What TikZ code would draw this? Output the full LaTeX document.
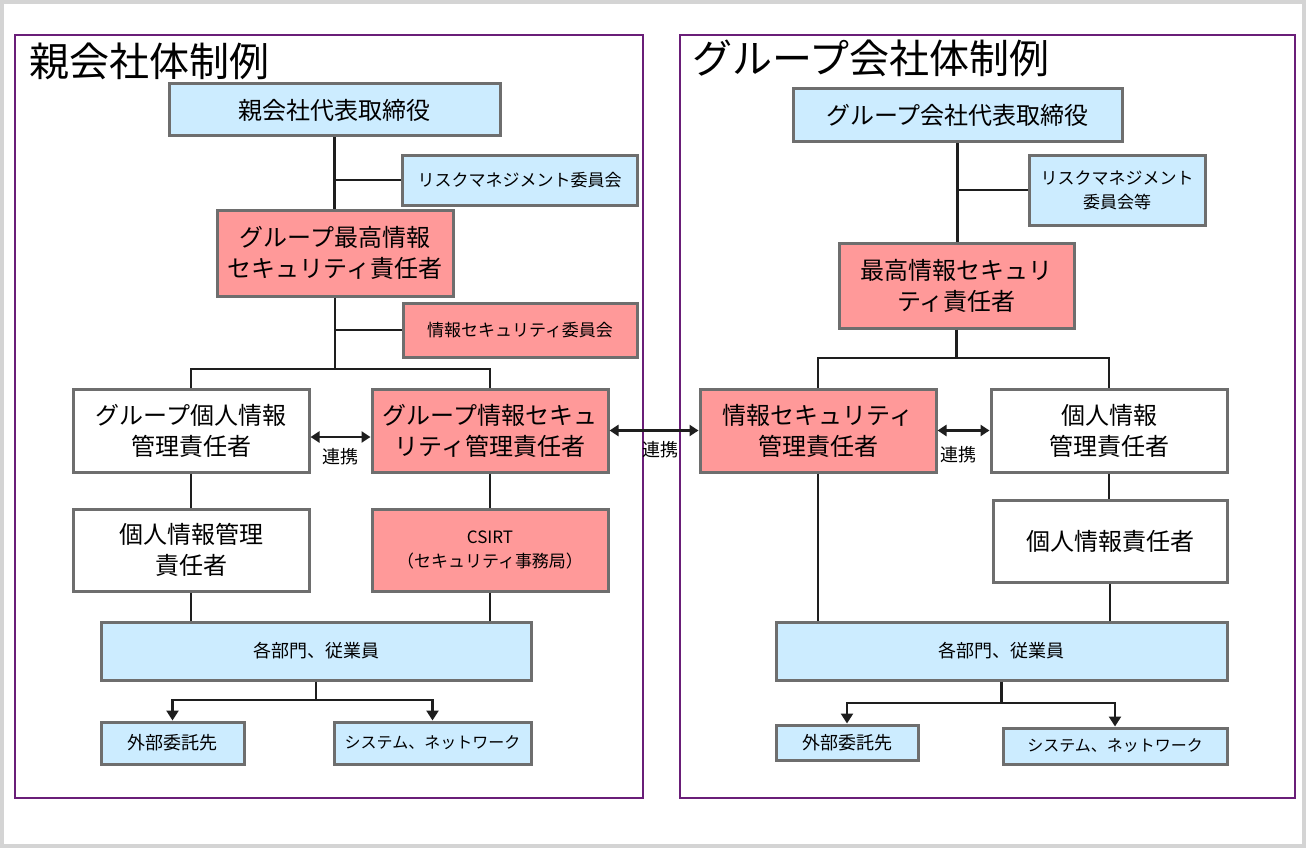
\documentclass[tikz,border=0pt]{standalone}
\usepackage{fontspec}
\setmainfont{Noto Sans CJK JP}
\usetikzlibrary{arrows.meta,calc}
\definecolor{bfill}{HTML}{CCECFF}
\definecolor{rfill}{HTML}{FF9999}
\definecolor{bordergray}{HTML}{6E6E6E}
\definecolor{panelpurple}{HTML}{6A1E78}
\definecolor{framegray}{HTML}{D4D4D4}
\definecolor{linecol}{HTML}{1E1E1E}
\newcommand\fbig{\fontsize{24}{31}\selectfont}
\newcommand\fsm{\fontsize{17}{24}\selectfont}
\newcommand\fmd{\fontsize{18}{24}\selectfont}
\newcommand\fnet{\fontsize{16}{22}\selectfont}
\newcommand\ftitle{\fontsize{40}{46}\selectfont}
\begin{document}
\begin{tikzpicture}[x=1pt,y=-1pt,
  boxbase/.style={draw=bordergray, line width=3pt, inner sep=0pt, align=center, text=black},
  bluebox/.style={boxbase, fill=bfill},
  redbox/.style={boxbase, fill=rfill},
  whitebox/.style={boxbase, fill=white},
  conn/.style={draw=linecol, line width=2.4pt},
  arrowconn/.style={conn, -{Triangle[length=10pt,width=12pt]}},
  biconn/.style={conn, {Triangle[length=9pt,width=11pt]}-{Triangle[length=9pt,width=11pt]}},
  lbl/.style={font=\fmd, text=black, inner sep=0pt},
  panel/.style={draw=panelpurple, line width=1.6pt}]
\useasboundingbox (0,0) rectangle (1306,848);
\fill[framegray] (0,0) rectangle (1306,848);
\fill[white] (4,4) rectangle (1302,844);
\draw[panel] (15,35) rectangle (643,798);
\draw[panel] (680,35) rectangle (1295,798);
\node[anchor=west, font=\ftitle, inner sep=0pt] (LT) at (29,61) {親会社体制例};
\node[anchor=west, font=\ftitle, inner sep=0pt] (RT) at (692,58) {グループ会社体制例};
% left
\node[bluebox, minimum width=331, minimum height=52, font=\fbig] (L1) at (334.5,110) {親会社代表取締役};
\node[bluebox, minimum width=235, minimum height=50, font=\fsm] (L2) at (519.5,180) {リスクマネジメント委員会};
\node[redbox, minimum width=236, minimum height=86, font=\fbig] (L3) at (335,253) {グループ最高情報\\セキュリティ責任者};
\node[redbox, minimum width=234, minimum height=54, font=\fsm] (L4) at (520,330) {情報セキュリティ委員会};
\node[whitebox, minimum width=236, minimum height=83, font=\fbig] (L5) at (191,430.5) {グループ個人情報\\管理責任者};
\node[redbox, minimum width=236, minimum height=83, font=\fbig] (L6) at (490,430.5) {グループ情報セキュ\\リティ管理責任者};
\node[whitebox, minimum width=236, minimum height=82, font=\fbig] (L7) at (191,550) {個人情報管理\\責任者};
\node[redbox, minimum width=236, minimum height=82, font=\fsm] (L8) at (490,550) {CSIRT\\（セキュリティ事務局）};
\node[bluebox, minimum width=430, minimum height=58, font=\fmd] (L9) at (316,651) {各部門、従業員};
\node[bluebox, minimum width=143, minimum height=42, font=\fmd] (L10) at (172.5,743) {外部委託先};
\node[bluebox, minimum width=197, minimum height=42, font=\fnet] (L11) at (432.5,743) {システム、ネットワーク};
\coordinate (Lj) at (335,369);
\coordinate (Lb) at (316,700);
\draw[conn] (L1.south) -- (L1.south |- L3.north);
\draw[conn] (L1.south |- L2.west) -- (L2.west);
\draw[conn] (L3.south) -- (Lj);
\draw[conn] (L3.south |- L4.west) -- (L4.west);
\draw[conn] (L5.north) -- (L5.north |- Lj) -- (L6.north |- Lj) -- (L6.north);
\draw[conn] (L5.south) -- (L7.north);
\draw[conn] (L6.south) -- (L8.north);
\draw[conn] (L7.south) -- (L7.south |- L9.north);
\draw[conn] (L8.south) -- (L8.south |- L9.north);
\draw[biconn] ($(L5.east)+(0,6.5)$) -- ($(L6.west)+(0,6.5)$);
\node[lbl] (LK) at (340,457) {連携};
\draw[conn] (L9.south) -- (Lb);
\draw[arrowconn] (Lb) -| (L10.north);
\draw[arrowconn] (Lb) -| (L11.north);
% right
\node[bluebox, minimum width=329, minimum height=53, font=\fbig] (R1) at (957.5,115.5) {グループ会社代表取締役};
\node[bluebox, minimum width=176, minimum height=70, font=\fsm] (R2) at (1117,190) {リスクマネジメント\\委員会等};
\node[redbox, minimum width=235, minimum height=85, font=\fbig] (R3) at (956.5,285.5) {最高情報セキュリ\\ティ責任者};
\node[redbox, minimum width=236, minimum height=83, font=\fbig] (R4) at (818,430.5) {情報セキュリティ\\管理責任者};
\node[whitebox, minimum width=236, minimum height=83, font=\fbig] (R5) at (1109,430.5) {個人情報\\管理責任者};
\node[whitebox, minimum width=234, minimum height=82, font=\fbig] (R6) at (1110,541) {個人情報責任者};
\node[bluebox, minimum width=451, minimum height=58, font=\fmd] (R7) at (1001.5,651) {各部門、従業員};
\node[bluebox, minimum width=142, minimum height=35, font=\fmd] (R8) at (847,742.5) {外部委託先};
\node[bluebox, minimum width=224, minimum height=36, font=\fnet] (R9) at (1115,746) {システム、ネットワーク};
\coordinate (Rj) at (957,358);
\coordinate (Rb) at (1001.5,703);
\draw[conn] (R1.south) -- (R1.south |- R3.north);
\draw[conn] (R1.south |- R2.west) -- (R2.west);
\draw[conn] (R3.south) -- (R3.south |- Rj);
\draw[conn] (R4.north) -- (R4.north |- Rj) -- (R5.north |- Rj) -- (R5.north);
\draw[conn] (R4.south) -- (R4.south |- R7.north);
\draw[conn] (R5.south) -- (R5.south |- R6.north);
\draw[conn] (R6.south) -- (R6.south |- R7.north);
\draw[biconn] (R4.east) -- (R5.west);
\node[lbl] (RK) at (958,455) {連携};
\draw[conn] (R7.south) -- (Rb);
\draw[arrowconn] (Rb) -| (R8.north);
\draw[arrowconn] (Rb) -| (R9.north);
% cross link
\draw[biconn] (L6.east) -- (R4.west);
\node[lbl] (CK) at (660,450) {連携};
\end{tikzpicture}
\end{document}
